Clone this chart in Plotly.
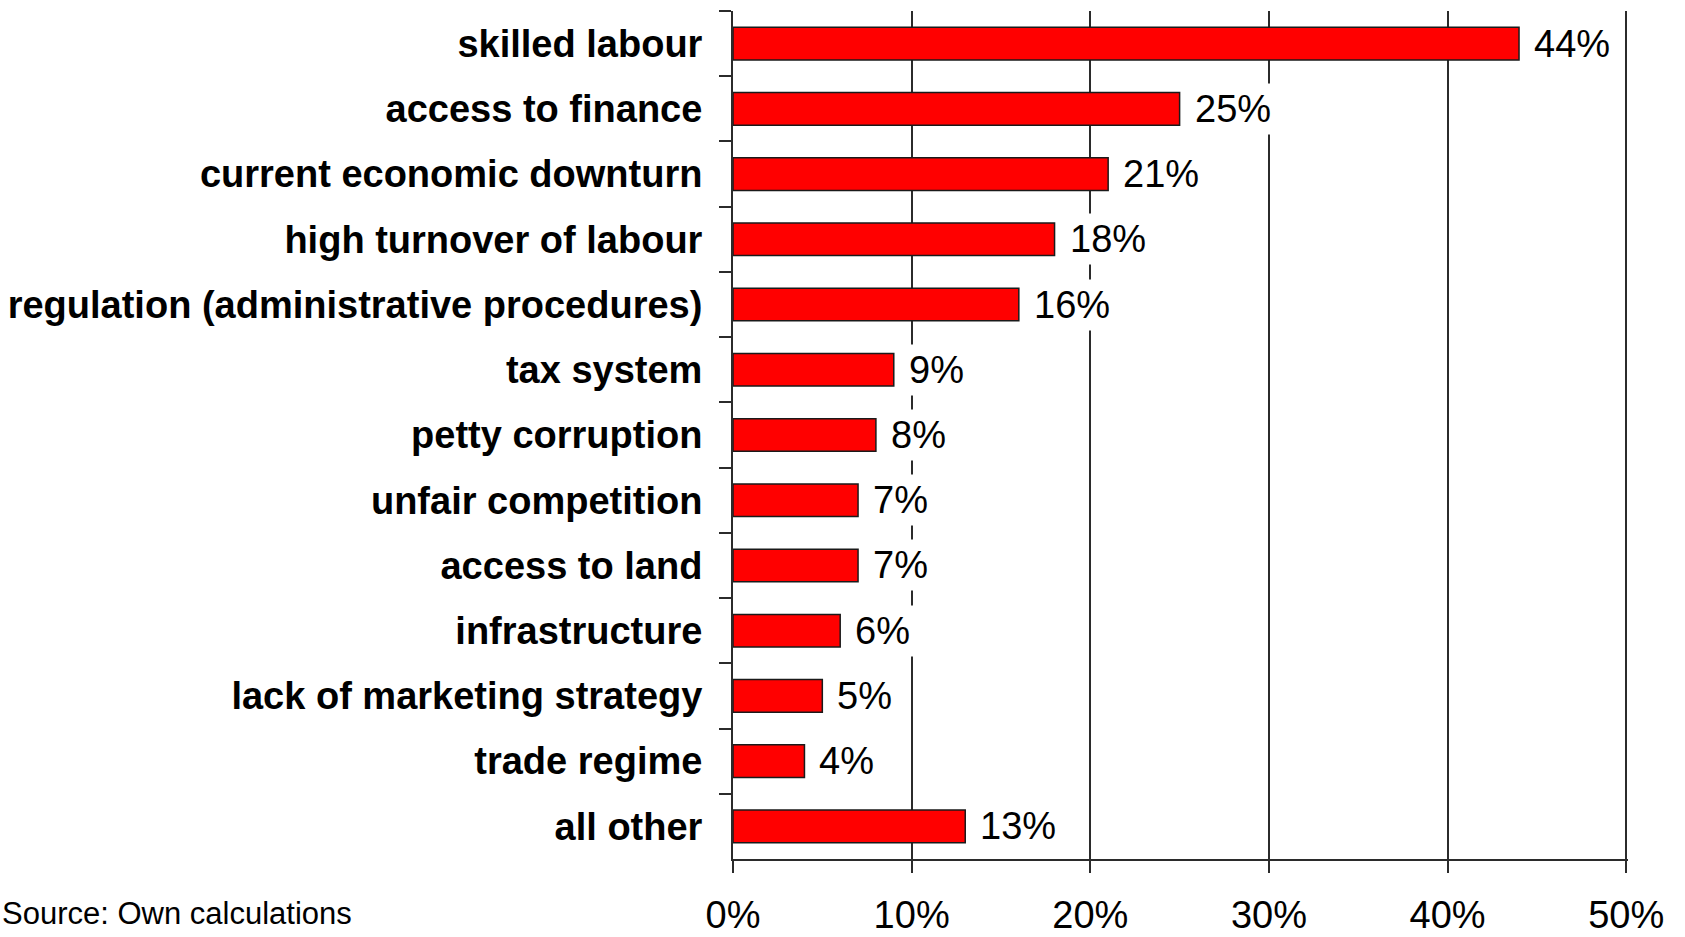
import plotly.graph_objects as go

# Obstacles named by firms, share of responses
categories = [
    "skilled labour",
    "access to finance",
    "current economic downturn",
    "high turnover of labour",
    "regulation (administrative procedures)",
    "tax system",
    "petty corruption",
    "unfair competition",
    "access to land",
    "infrastructure",
    "lack of marketing strategy",
    "trade regime",
    "all other",
]
shares = [0.44, 0.25, 0.21, 0.18, 0.16, 0.09, 0.08, 0.07, 0.07, 0.06, 0.05, 0.04, 0.13]
x_ticks = [0.0, 0.1, 0.2, 0.3, 0.4, 0.5]
x_tick_labels = ["0%", "10%", "20%", "30%", "40%", "50%"]
source_note = "Source: Own calculations"

W, H = 1685, 937
M_L, M_R, M_T, M_B = 733, 57, 11, 78
plot_w = W - M_L - M_R
plot_h = H - M_T - M_B

fig = go.Figure(
    go.Bar(
        x=shares,
        y=categories,
        orientation="h",
        width=0.5,
        marker=dict(color="#FF0000", line=dict(color="#1a1a1a", width=1.5)),
        hoverinfo="skip",
    )
)

# value labels on a white box so they mask the grid behind them
for cat, v in zip(categories, shares):
    fig.add_annotation(
        x=v, y=cat, xref="x", yref="y",
        text=f"{round(v * 100)}%",
        showarrow=False, xanchor="left", yanchor="middle",
        xshift=10,
        bgcolor="white", borderpad=4,
        font=dict(family="Liberation Sans, Arial", size=38, color="black"),
    )

# source line below the chart, at the page's left edge
fig.add_annotation(
    text=source_note,
    xref="paper", yref="paper",
    x=(0 - M_L) / plot_w, y=(H - M_B - 913) / plot_h,
    xanchor="left", yanchor="middle",
    showarrow=False,
    font=dict(family="Liberation Sans, Arial", size=31, color="black"),
)

fig.update_layout(
    width=W, height=H,
    margin=dict(l=M_L, r=M_R, t=M_T, b=M_B, autoexpand=False),
    paper_bgcolor="white", plot_bgcolor="white",
    showlegend=False,
    bargap=0.5,
)

# range runs a hair past 50% so the last gridline is kept
fig.update_xaxes(
    range=[0, 0.501],
    tickvals=x_ticks, ticktext=x_tick_labels,
    showgrid=True, gridcolor="#2b2b2b", gridwidth=1.5,
    showline=True, linecolor="#2b2b2b", linewidth=2,
    ticks="outside", ticklen=12, tickwidth=1.5, tickcolor="#2b2b2b",
    tickfont=dict(family="Liberation Sans, Arial", size=38, color="black"),
    ticklabelstandoff=9,
    zeroline=False,
    fixedrange=True,
)

fig.update_yaxes(
    categoryorder="array", categoryarray=categories,
    autorange="reversed",
    showgrid=False,
    showline=True, linecolor="#2b2b2b", linewidth=2,
    ticks="outside", tickson="boundaries", ticklen=12, tickwidth=1.5, tickcolor="#2b2b2b",
    tickfont=dict(family="Liberation Sans, Arial", size=38, color="black", weight="bold"),
    ticklabelstandoff=21,
    fixedrange=True,
)

fig.write_html("out.html")
